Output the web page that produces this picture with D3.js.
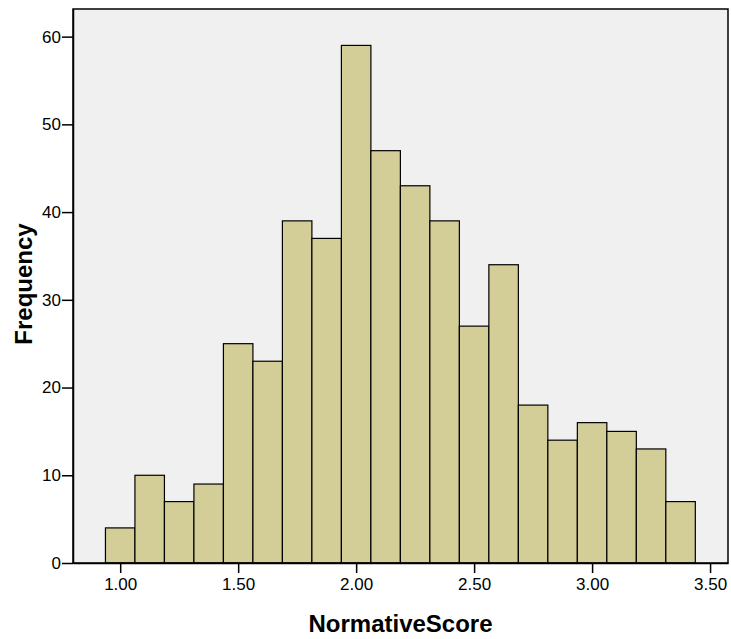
<!DOCTYPE html>
<html>
<head>
<meta charset="utf-8">
<script src="https://cdn.jsdelivr.net/npm/d3@7"></script>
<style>
  html, body { margin: 0; padding: 0; background: #ffffff; }
  svg { display: block; }
  .tick text { font-family: "Liberation Sans", Arial, sans-serif; font-size: 17px; fill: #000; }
</style>
</head>
<body>
<svg id="chart" width="731" height="639"></svg>
<script>
// Histogram bins of NormativeScore (bin width 0.125)
const binStart = 0.9375;
const binWidth = 0.125;
const frequencies = [4, 10, 7, 9, 25, 23, 39, 37, 59, 47, 43, 39, 27, 34, 18, 14, 16, 15, 13, 7];
const xTickValues = [1.0, 1.5, 2.0, 2.5, 3.0, 3.5];
const yTickValues = [0, 10, 20, 30, 40, 50, 60];

const bins = frequencies.map((f, i) => ({
  x0: binStart + i * binWidth,
  x1: binStart + (i + 1) * binWidth,
  count: f
}));

const svg = d3.select("#chart");
const margin = { left: 73, top: 9, right: 3, bottom: 76 };
const width = 731 - margin.left - margin.right;
const height = 639 - margin.top - margin.bottom;

const x = d3.scaleLinear().domain([0.8, 3.576]).range([0, width]);
const y = d3.scaleLinear().domain([0, 63.15]).range([height, 0]);

const g = svg.append("g").attr("transform", `translate(${margin.left},${margin.top})`);

// plot background
g.append("rect")
  .attr("x", 0).attr("y", 0)
  .attr("width", width).attr("height", height)
  .attr("fill", "#f0f0f0");

// bars
g.selectAll("rect.bar")
  .data(bins)
  .join("rect")
  .attr("class", "bar")
  .attr("x", d => x(d.x0))
  .attr("y", d => y(d.count))
  .attr("width", d => x(d.x1) - x(d.x0))
  .attr("height", d => y(0) - y(d.count))
  .attr("fill", "#d3ce98")
  .attr("stroke", "#000")
  .attr("stroke-width", 1.2);

// frame
g.append("rect")
  .attr("x", 0).attr("y", 0)
  .attr("width", width).attr("height", height)
  .attr("fill", "none")
  .attr("stroke", "#000")
  .attr("stroke-width", 1.5);

// axes
const xAxis = d3.axisBottom(x)
  .tickValues(xTickValues)
  .tickFormat(d3.format(".2f"))
  .tickSize(10)
  .tickSizeOuter(0)
  .tickPadding(5);
const gx = g.append("g").attr("transform", `translate(0,${height})`).call(xAxis);
gx.select(".domain").attr("stroke-width", 1.5);
gx.selectAll(".tick line").attr("stroke-width", 1.5);

const yAxis = d3.axisLeft(y)
  .tickValues(yTickValues)
  .tickFormat(d3.format("d"))
  .tickSize(11)
  .tickSizeOuter(0)
  .tickPadding(1);
const gy = g.append("g").call(yAxis);
gy.select(".domain").attr("stroke-width", 1.5);
gy.selectAll(".tick line").attr("stroke-width", 1.5);

// axis titles
svg.append("text")
  .attr("x", margin.left + width / 2)
  .attr("y", 632)
  .attr("text-anchor", "middle")
  .attr("font-family", "Liberation Sans, Arial, sans-serif")
  .attr("font-weight", "bold")
  .attr("font-size", 24)
  .text("NormativeScore");

svg.append("text")
  .attr("transform", `translate(32,284) rotate(-90)`)
  .attr("text-anchor", "middle")
  .attr("font-family", "Liberation Sans, Arial, sans-serif")
  .attr("font-weight", "bold")
  .attr("font-size", 24)
  .text("Frequency");
</script>
</body>
</html>
